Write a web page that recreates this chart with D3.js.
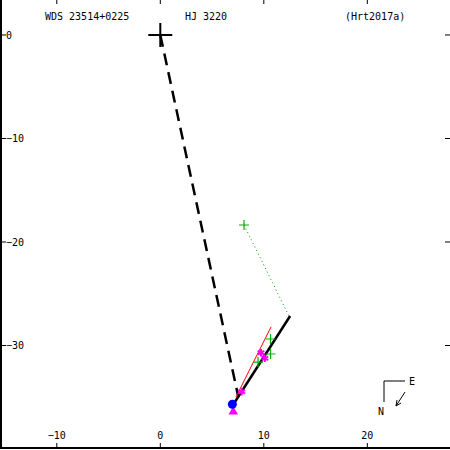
<!DOCTYPE html>
<html>
<head>
<meta charset="utf-8">
<script src="https://d3js.org/d3.v7.min.js"></script>
<style>
  body { margin: 0; background: #fff; }
  text { font-family: "DejaVu Sans Mono", monospace; font-size: 10px; fill: #000; }
</style>
</head>
<body>
<script>
// header texts
var titles = ["WDS 23514+0225", "HJ 3220", "(Hrt2017a)"];

// ticks
var xTicks = [-10, 0, 10, 20];
var yTicks = [0, -10, -20, -30];

// orbit track and observations (arcsec offsets)
var dashedX = [0, 7.5];
var dashedY = [0, -34.8];
var orbitX = [7.02, 12.54];
var orbitY = [-35.75, -27.15];
var redX = [7.31, 10.7];
var redY = [-34.98, -28.2];
var dotX = [8.09, 12.4];
var dotY = [-18.36, -27.1];
var greenX = [8.09, 10.65, 10.65, 9.44];
var greenY = [-18.36, -29.37, -30.82, -31.6];
var starX = [9.73, 10.1, 7.86];
var starY = [-30.7, -31.24, -34.46];
var triX = [7.05];
var triY = [-36.4];
var blueX = [6.96];
var blueY = [-35.68];

var W = 450, H = 450;
var x = d3.scaleLinear().domain([-15.39, 27.89]).range([1, 449]);
var y = d3.scaleLinear().domain([3.38, -40.0]).range([0, 449]);
var fmt = function(t) { return d3.format("d")(t).replace("-", "\u2212"); };

var svg = d3.select("body").append("svg")
    .attr("width", W)
    .attr("height", H);

// frame lines (left and bottom)
svg.append("line").attr("x1", 1).attr("x2", 1).attr("y1", 0).attr("y2", 449)
    .attr("stroke", "#000").attr("stroke-width", 2);
svg.append("line").attr("x1", 0).attr("x2", 450).attr("y1", 448).attr("y2", 448)
    .attr("stroke", "#000").attr("stroke-width", 2);

// x ticks top and bottom
xTicks.forEach(function(t) {
  svg.append("line").attr("x1", x(t)).attr("x2", x(t)).attr("y1", 0).attr("y2", 4)
      .attr("stroke", "#000");
  svg.append("line").attr("x1", x(t)).attr("x2", x(t)).attr("y1", 443).attr("y2", 448)
      .attr("stroke", "#000");
  svg.append("text").attr("x", x(t)).attr("y", 439)
      .attr("text-anchor", "middle").text(fmt(t));
});

// y ticks left and right
yTicks.forEach(function(t) {
  svg.append("line").attr("x1", 1).attr("x2", 6).attr("y1", y(t)).attr("y2", y(t))
      .attr("stroke", "#000");
  svg.append("line").attr("x1", 445).attr("x2", 450).attr("y1", y(t)).attr("y2", y(t))
      .attr("stroke", "#000");
  svg.append("text").attr("x", 6).attr("y", y(t) + 4).text(fmt(t));
});

// titles
svg.append("text").attr("x", 45).attr("y", 20).text(titles[0]);
svg.append("text").attr("x", 185).attr("y", 20).text(titles[1]);
svg.append("text").attr("x", 345).attr("y", 20).text(titles[2]);

// dashed line to primary
svg.append("line")
    .attr("x1", x(dashedX[0])).attr("y1", y(dashedY[0]))
    .attr("x2", x(dashedX[1])).attr("y2", y(dashedY[1]))
    .attr("stroke", "#000").attr("stroke-width", 2.5)
    .attr("stroke-dasharray", "12,7");

// green dotted
svg.append("line")
    .attr("x1", x(dotX[0])).attr("y1", y(dotY[0]))
    .attr("x2", x(dotX[1])).attr("y2", y(dotY[1]))
    .attr("stroke", "#00a000").attr("stroke-width", 1)
    .attr("stroke-dasharray", "1,3");

// red line
svg.append("line")
    .attr("x1", x(redX[0])).attr("y1", y(redY[0]))
    .attr("x2", x(redX[1])).attr("y2", y(redY[1]))
    .attr("stroke", "#ff0000").attr("stroke-width", 1);

// orbit segment
svg.append("line")
    .attr("x1", x(orbitX[0])).attr("y1", y(orbitY[0]))
    .attr("x2", x(orbitX[1])).attr("y2", y(orbitY[1]))
    .attr("stroke", "#000").attr("stroke-width", 2.5);

// primary star cross
svg.append("path")
    .attr("d", "M" + (x(0) - 12) + "," + y(0) + "h24M" + x(0) + "," + (y(0) - 12) + "v24")
    .attr("stroke", "#000").attr("stroke-width", 2).attr("fill", "none");

// green plus marks
greenX.forEach(function(v, i) {
  svg.append("path")
      .attr("d", "M" + (x(v) - 5) + "," + y(greenY[i]) + "h10M" + x(v) + "," + (y(greenY[i]) - 5) + "v10")
      .attr("stroke", "#00b000").attr("stroke-width", 1.2).attr("fill", "none");
});

// magenta stars
starX.forEach(function(v, i) {
  svg.append("path")
      .attr("transform", "translate(" + x(v) + "," + y(starY[i]) + ")")
      .attr("d", d3.symbol().type(d3.symbolAsterisk).size(40)())
      .attr("stroke", "#ff00ff").attr("stroke-width", 2).attr("fill", "none");
});

// magenta triangle
triX.forEach(function(v, i) {
  svg.append("path")
      .attr("transform", "translate(" + x(v) + "," + y(triY[i]) + ")")
      .attr("d", d3.symbol().type(d3.symbolTriangle).size(40)())
      .attr("fill", "#ff00ff");
});

// blue dot
blueX.forEach(function(v, i) {
  svg.append("circle")
      .attr("cx", x(v)).attr("cy", y(blueY[i])).attr("r", 4.5)
      .attr("fill", "#0000ff");
});

// compass
svg.append("path").attr("d", "M405,381H384V402")
    .attr("stroke", "#000").attr("stroke-width", 1).attr("fill", "none");
svg.append("text").attr("x", 409).attr("y", 385).text("E");
svg.append("text").attr("x", 378).attr("y", 415).text("N");
svg.append("path").attr("d", "M405,392L396,406M396,406l1,-6M396,406l5,-3")
    .attr("stroke", "#000").attr("stroke-width", 1).attr("fill", "none");
</script>
</body>
</html>
